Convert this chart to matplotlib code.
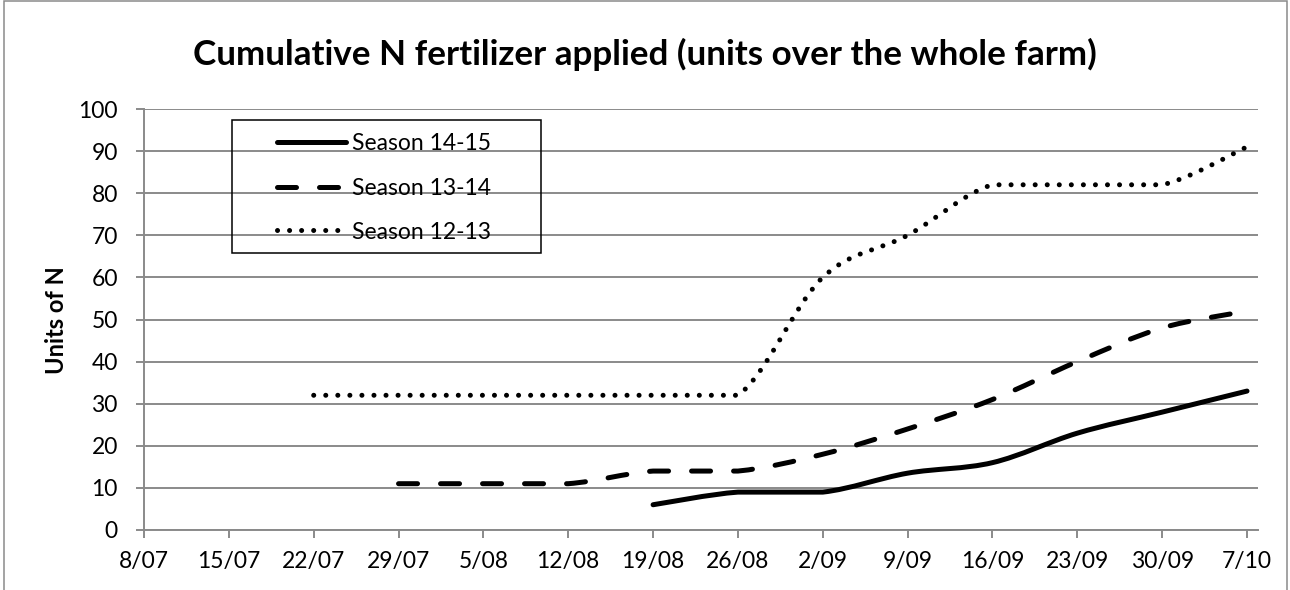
import numpy as np
import matplotlib
matplotlib.use('Agg')
import matplotlib.pyplot as plt
from matplotlib.path import Path
from matplotlib.patches import PathPatch, Rectangle
from matplotlib.lines import Line2D

# ---------------- data ----------------
week_labels = ['8/07', '15/07', '22/07', '29/07', '5/08', '12/08', '19/08',
               '26/08', '2/09', '9/09', '16/09', '23/09', '30/09', '7/10']
season_14_15 = [None] * 6 + [6, 9, 9, 13.5, 16, 23, 28, 33]
season_13_14 = [None] * 3 + [11, 11, 11, 14, 14, 18, 24, 31, 40, 48, 52]
season_12_13 = [None] * 2 + [32, 32, 32, 32, 32, 32, 60, 70, 82, 82, 82, 91]
series_names = ['Season 14-15', 'Season 13-14', 'Season 12-13']
y_ticks = list(range(0, 101, 10))

# ---------------- style ----------------
plt.rcParams['font.family'] = ['Lato', 'DejaVu Sans']
W, H = 1290, 590
DPI = 100
LW = 3.6
styles = ['solid', (0, (3.8, 4.6)), (0, (0.01, 2.4))]
grid_col = '#8a8a8a'

fig = plt.figure(figsize=(W / DPI, H / DPI), dpi=DPI)

def px_rect(l, t, r, b):
    return [l / W, 1 - b / H, (r - l) / W, (b - t) / H]

ax = fig.add_axes(px_rect(144, 109, 1258, 530))


def smooth_path(xs, ys):
    """Excel-like smoothed line: Catmull-Rom Bezier, control points kept
    within each segment's value range (no overshoot on flat stretches)."""
    P = np.column_stack([xs, ys]).astype(float)
    n = len(P)
    T = np.zeros_like(P)
    for i in range(n):
        a = P[max(i - 1, 0)]
        b = P[min(i + 1, n - 1)]
        T[i] = (b - a) / 2.0
    verts = [tuple(P[0])]
    codes = [Path.MOVETO]
    for i in range(n - 1):
        lo = min(P[i, 1], P[i + 1, 1])
        hi = max(P[i, 1], P[i + 1, 1])
        c1 = P[i] + T[i] / 3.0
        c2 = P[i + 1] - T[i + 1] / 3.0
        c1[1] = min(max(c1[1], lo), hi)
        c2[1] = min(max(c2[1], lo), hi)
        verts += [tuple(c1), tuple(c2), tuple(P[i + 1])]
        codes += [Path.CURVE4] * 3
    return Path(verts, codes)


for vals, ls in zip([season_14_15, season_13_14, season_12_13], styles):
    idx = [i for i, v in enumerate(vals) if v is not None]
    ys = [vals[i] for i in idx]
    patch = PathPatch(smooth_path(idx, ys), fill=False, edgecolor='black',
                      lw=LW, linestyle=ls, capstyle='round', joinstyle='round',
                      zorder=3)
    ax.add_patch(patch)

ax.set_xlim(0, len(week_labels) - 1 + 11 / 84.9)
ax.set_ylim(0, 100)
ax.set_xticks(range(len(week_labels)))
ax.set_xticklabels(week_labels)
ax.set_yticks(y_ticks)
ax.yaxis.grid(True, color=grid_col, lw=1.4)
ax.set_axisbelow(True)
for s in ['top', 'right']:
    ax.spines[s].set_visible(False)
for s in ['left', 'bottom']:
    ax.spines[s].set_color(grid_col)
    ax.spines[s].set_linewidth(1.4)
ax.tick_params(axis='both', direction='out', length=5.8, width=1.4,
               color=grid_col, labelsize=16.5, labelcolor='black')
ax.tick_params(axis='y', pad=13)
ax.tick_params(axis='x', pad=9)

# title
title = fig.text(645 / W, 1 - 65 / H,
                 'Cumulative N fertilizer applied (units over the whole farm)',
                 ha='center', va='baseline', fontsize=25, fontweight='bold')
fig.canvas.draw()
wpx = title.get_window_extent().width
title.set_fontsize(25 * 903 / wpx)

# y label
fig.text(56 / W, 1 - 320 / H, 'Units of N', rotation=90, ha='center',
         va='center', fontsize=17, fontweight='bold')

# legend (manual, Excel-like box)
fig.add_artist(Rectangle((232 / W, 1 - 252.7 / H), 309 / W, 132.7 / H,
                         transform=fig.transFigure, fill=False,
                         edgecolor='black', lw=1.1, zorder=5))
for name, ls, yrow in zip(series_names, styles, [141.7, 186.7, 230]):
    fig.add_artist(Line2D([277 / W, 346 / W], [1 - yrow / H, 1 - yrow / H],
                          transform=fig.transFigure, color='black', lw=LW,
                          linestyle=ls, dash_capstyle='round',
                          solid_capstyle='round', zorder=6))
    fig.text(352 / W, 1 - yrow / H, name, ha='left', va='center_baseline',
             fontsize=16.5, zorder=6)

# outer chart border
fig.add_artist(Rectangle((4 / W, -0.05), (1287 - 4) / W, 1.05 - 1.5 / H,
                         transform=fig.transFigure, fill=False,
                         edgecolor=grid_col, lw=1.1, clip_on=False))

fig.savefig('out.png', dpi=DPI)
